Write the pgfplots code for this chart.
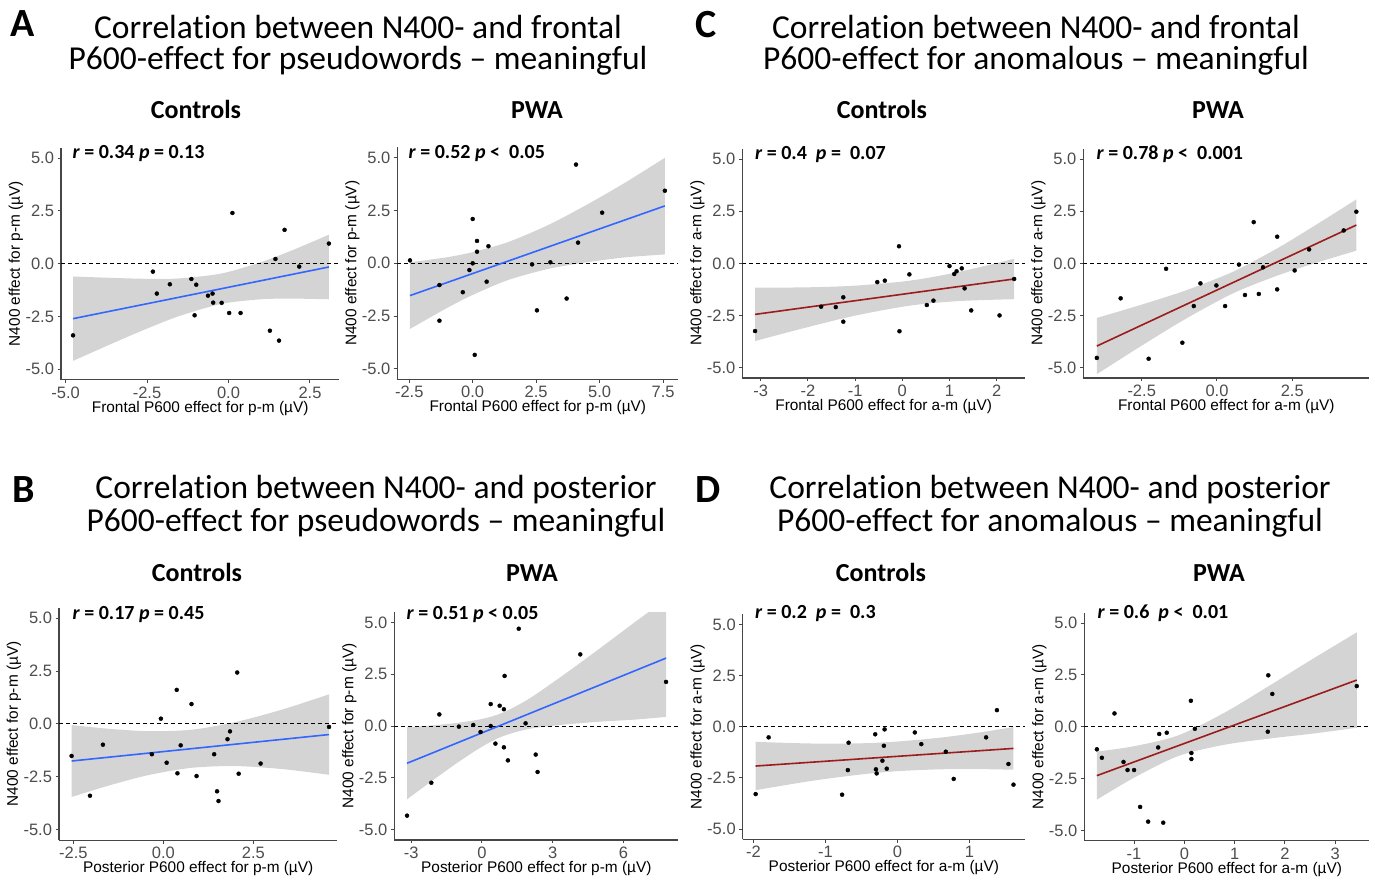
\documentclass[border=0pt]{standalone}
\usepackage{fontspec}
\setmainfont{Carlito}[Ligatures=NoCommon]
\newfontfamily\arial{Liberation Sans}
\usepackage{pgfplots}
\pgfplotsset{compat=1.18}
\usepgfplotslibrary{fillbetween}

\definecolor{axcol}{RGB}{70,70,70}
\definecolor{tickcol}{RGB}{77,77,77}
\definecolor{bandcol}{RGB}{212,212,212}
\definecolor{bluefit}{HTML}{3366FF}
\definecolor{redfit}{HTML}{9B1C1C}

\newcommand\ticklab{\arial\fontsize{16.5}{18}\selectfont}
\newcommand\axlab{\arial\fontsize{15.4}{17}\selectfont}
\newcommand\titlefont{\fontsize{33.5}{37}\selectfont}
\newcommand\letterfont{\fontsize{40}{44}\selectfont\bfseries}
\newcommand\groupfont{\fontsize{26}{29}\selectfont\bfseries}
\newcommand\rfont{\fontsize{20}{22}\selectfont\bfseries}

\pgfplotsset{
  scat/.style={
    scale only axis, anchor=south west,
    ymin=-5.5, ymax=5.5,
    ytick={-5,-2.5,0,2.5,5}, yticklabels={-5.0,-2.5,0.0,2.5,5.0},
    axis x line*=bottom, axis y line*=left,
    axis line style={-, draw=axcol, line width=1.3pt},
    every outer x axis line/.append style={-},
    every outer y axis line/.append style={-},
    tick align=outside, major tick length=3.5pt,
    major tick style={draw=axcol, line width=1pt},
    ticklabel style={font=\ticklab, text=tickcol},
  },
  band/.style={fill=bandcol, draw=none},
  pts/.style={only marks, mark=*, mark size=2pt, black},
  zero/.style={black, line width=1pt, dash pattern=on 4pt off 3pt},
  bfit/.style={bluefit, line width=1.6pt},
  rfit/.style={redfit, line width=1.6pt},
}
\tikzset{
  tline1/.style={font=\titlefont, anchor=base, inner sep=1pt, text depth=0pt},
  tline2/.style={font=\titlefont, anchor=base, inner sep=1pt, text height=20pt},
}

\begin{document}
\begin{tikzpicture}

% ---------- titles ----------
\node[font=\letterfont, anchor=base] at (23pt,-36pt) {A};
\node[font=\letterfont, anchor=base] at (706pt,-37pt) {C};
\node[font=\letterfont, anchor=base] at (24pt,-502pt) {B};
\node[font=\letterfont, anchor=base] at (708pt,-502pt) {D};

\node[tline1] at (358pt,-38pt) {Correlation between N400- and frontal};
\node[tline2] at (358pt,-69pt) {P600-effect for pseudowords – meaningful};
\node[tline1] at (1036pt,-38pt) {Correlation between N400- and frontal};
\node[tline2] at (1036pt,-69pt) {P600-effect for anomalous – meaningful};
\node[tline1] at (376pt,-498pt) {Correlation between N400- and posterior};
\node[tline2] at (376pt,-531pt) {P600-effect for pseudowords – meaningful};
\node[tline1] at (1050pt,-498pt) {Correlation between N400- and posterior};
\node[tline2] at (1050pt,-531pt) {P600-effect for anomalous – meaningful};

\node[font=\groupfont, anchor=base] at (196pt,-118.5pt) {Controls};
\node[font=\groupfont, anchor=base] at (537pt,-118.5pt) {PWA};
\node[font=\groupfont, anchor=base] at (882pt,-118.5pt) {Controls};
\node[font=\groupfont, anchor=base] at (1218pt,-118.5pt) {PWA};
\node[font=\groupfont, anchor=base] at (197pt,-581.5pt) {Controls};
\node[font=\groupfont, anchor=base] at (532pt,-581.5pt) {PWA};
\node[font=\groupfont, anchor=base] at (881pt,-581.5pt) {Controls};
\node[font=\groupfont, anchor=base] at (1219pt,-581.5pt) {PWA};

% ---------- A: Controls ----------
\begin{axis}[scat, name=ac, at={(61pt,-379.65pt)}, width=278.3pt, height=232.1pt,
  xmin=-5.14, xmax=3.40, xtick={-5,-2.5,0,2.5}, xticklabels={-5.0,-2.5,0.0,2.5}]
  \addplot[name path=up, draw=none, smooth] coordinates {(-4.77,-0.61) (-3.5,-0.68) (-2.5,-0.72) (-1.5,-0.70) (-0.22,-0.47) (1,0.07) (2,0.66) (3.08,1.37)};
  \addplot[name path=lo, draw=none, smooth] coordinates {(-4.77,-4.61) (-3.5,-3.74) (-2.5,-3.08) (-1.5,-2.48) (-0.22,-1.91) (1,-1.69) (2,-1.66) (3.08,-1.69)};
  \addplot[band] fill between[of=up and lo];
  \addplot[zero] coordinates {(-5.14,0) (3.40,0)};
  \addplot[bfit] coordinates {(-4.77,-2.61) (3.08,-0.16)};
  \addplot[pts] coordinates {(-4.77,-3.40) (-2.32,-0.38) (-2.20,-1.42) (-1.80,-0.98) (-1.14,-0.73) (-0.99,-1.00) (-1.04,-2.45) (-0.63,-1.52) (-0.49,-1.42) (-0.47,-1.85) (-0.21,-1.86) (0.12,2.40) (0.02,-2.34) (0.37,-2.34) (1.27,-3.18) (1.55,-3.65) (1.44,0.22) (1.72,1.60) (2.17,-0.14) (3.08,0.95)};
\end{axis}

% ---------- A: PWA ----------
\begin{axis}[scat, name=ap, at={(397.3pt,-379.35pt)}, width=281pt, height=232.1pt,
  xmin=-2.97, xmax=8.10, xtick={-2.5,0,2.5,5,7.5}, xticklabels={-2.5,0.0,2.5,5.0,7.5}]
  \addplot[name path=up, draw=none, smooth] coordinates {(-2.47,0.05) (-1,0.29) (0,0.53) (1.4,1.01) (3,1.83) (4.5,2.78) (6,3.82) (7.57,5.0)};
  \addplot[name path=lo, draw=none, smooth] coordinates {(-2.47,-3.11) (-1,-2.11) (0,-1.50) (1.4,-0.79) (3,-0.26) (4.5,0.05) (6,0.28) (7.57,0.42)};
  \addplot[band] fill between[of=up and lo];
  \addplot[zero] coordinates {(-2.97,0) (8.10,0)};
  \addplot[bfit] coordinates {(-2.47,-1.53) (7.57,2.72)};
  \addplot[pts] coordinates {(-2.47,0.14) (-1.31,-1.03) (-1.31,-2.72) (-0.39,-1.37) (-0.13,-0.32) (0.0,2.10) (0.0,0.0) (0.08,-4.34) (0.17,1.06) (0.17,0.55) (0.62,0.81) (0.55,-0.87) (2.34,-0.05) (2.53,-2.23) (3.06,0.05) (3.70,-1.67) (4.07,4.68) (4.15,0.98) (5.10,2.40) (7.57,3.44)};
\end{axis}

% ---------- C: Controls ----------
\begin{axis}[scat, name=cc, at={(742.3pt,-377.9pt)}, width=282.7pt, height=229.1pt,
  xmin=-3.39, xmax=2.60, xtick={-3,-2,-1,0,1,2}, xticklabels={-3,-2,-1,0,1,2}]
  \addplot[name path=up, draw=none, smooth] coordinates {(-3.12,-1.17) (-2,-1.15) (-1,-1.07) (0.16,-0.83) (1.2,-0.41) (2.37,0.22)};
  \addplot[name path=lo, draw=none, smooth] coordinates {(-3.12,-3.73) (-2,-3.06) (-1,-2.51) (0.16,-2.03) (1.2,-1.81) (2.37,-1.72)};
  \addplot[band] fill between[of=up and lo];
  \addplot[zero] coordinates {(-3.39,0) (2.60,0)};
  \addplot[rfit] coordinates {(-3.12,-2.45) (2.37,-0.75)};
  \addplot[pts] coordinates {(-3.12,-3.25) (-1.72,-2.08) (-1.41,-2.10) (-1.25,-1.63) (-1.25,-2.80) (-0.53,-0.90) (-0.37,-0.83) (-0.07,0.82) (-0.06,-3.26) (0.15,-0.53) (0.52,-2.0) (0.66,-1.79) (1.0,-0.13) (1.10,-0.51) (1.15,-0.38) (1.26,-0.24) (1.32,-1.2) (1.46,-2.26) (2.06,-2.50) (2.37,-0.75)};
\end{axis}

% ---------- C: PWA ----------
\begin{axis}[scat, name=cp, at={(1083.3pt,-377.9pt)}, width=286pt, height=229.1pt,
  xmin=-4.44, xmax=5.06, xtick={-2.5,0,2.5}, xticklabels={-2.5,0.0,2.5}]
  \addplot[name path=up, draw=none, smooth] coordinates {(-3.99,-2.62) (-2.5,-1.98) (-1,-1.28) (0.55,-0.39) (2,0.72) (3.3,1.86) (4.63,3.07)};
  \addplot[name path=lo, draw=none, smooth] coordinates {(-3.99,-5.32) (-2.5,-3.95) (-1,-2.63) (0.55,-1.43) (2,-0.59) (3.3,0.03) (4.63,0.61)};
  \addplot[band] fill between[of=up and lo];
  \addplot[zero] coordinates {(-4.44,0) (5.06,0)};
  \addplot[rfit] coordinates {(-3.99,-3.97) (4.63,1.84)};
  \addplot[pts] coordinates {(-3.99,-4.54) (-3.20,-1.68) (-2.27,-4.58) (-1.69,-0.26) (-1.15,-3.81) (-0.77,-2.05) (-0.55,-0.96) (-0.02,-1.06) (0.27,-2.05) (0.73,-0.06) (0.93,-1.52) (1.22,1.98) (1.39,-1.47) (1.53,-0.19) (2.0,1.28) (2.0,-1.25) (2.58,-0.34) (3.06,0.67) (4.21,1.58) (4.63,2.48)};
\end{axis}

% ---------- B: Controls ----------
\begin{axis}[scat, name=bc, at={(59pt,-840.4pt)}, width=278.3pt, height=232.9pt,
  xmin=-2.90, xmax=4.83, xtick={-2.5,0,2.5}, xticklabels={-2.5,0.0,2.5}]
  \addplot[name path=up, draw=none, smooth] coordinates {(-2.55,-0.05) (-1.5,-0.23) (-0.4,-0.34) (0.79,-0.27) (2,0.09) (3.3,0.68) (4.6,1.40)};
  \addplot[name path=lo, draw=none, smooth] coordinates {(-2.55,-3.45) (-1.5,-2.90) (-0.4,-2.41) (0.79,-2.07) (2,-1.99) (3.3,-2.13) (4.6,-2.40)};
  \addplot[band] fill between[of=up and lo];
  \addplot[zero] coordinates {(-2.90,0) (4.83,0)};
  \addplot[bfit] coordinates {(-2.55,-1.75) (4.6,-0.50)};
  \addplot[pts] coordinates {(-2.55,-1.51) (-2.04,-3.39) (-1.68,-0.98) (-0.32,-1.43) (-0.07,0.25) (0.09,-1.83) (0.37,1.61) (0.39,-2.33) (0.48,-1.01) (0.78,0.94) (0.92,-2.46) (1.41,-1.43) (1.49,-3.18) (1.53,-3.64) (1.78,-0.72) (1.85,-0.35) (2.05,2.43) (2.09,-2.35) (2.70,-1.87) (4.60,-0.14)};
\end{axis}

% ---------- B: PWA ----------
\begin{axis}[scat, name=bp, at={(394.3pt,-839.85pt)}, width=284pt, height=227.7pt,
  xmin=-3.72, xmax=8.33, xtick={-3,0,3,6}, xticklabels={-3,0,3,6}]
  \addplot[name path=up, draw=none, smooth] coordinates {(-3.18,-0.06) (-2,0.04) (-1,0.16) (0,0.34) (0.87,0.64) (2,1.32) (3.5,2.50) (5,3.75) (6.5,5.03) (7.81,6.12)};
  \addplot[name path=lo, draw=none, smooth] coordinates {(-3.18,-3.54) (-2,-2.55) (-1,-1.74) (0,-1.00) (0.87,-0.50) (2,-0.14) (3.5,0.07) (5,0.21) (6.5,0.31) (7.81,0.44)};
  \addplot[band] fill between[of=up and lo];
  \addplot[zero] coordinates {(-3.72,0) (8.33,0)};
  \addplot[bfit] coordinates {(-3.18,-1.80) (7.81,3.28)};
  \addplot[pts] coordinates {(-3.18,-4.33) (-2.15,-2.74) (-1.81,0.56) (-0.98,-0.03) (-0.37,0.05) (-0.06,-0.29) (0.37,1.06) (0.37,0.0) (0.57,-0.85) (0.75,0.98) (0.93,0.81) (0.93,-1.03) (0.96,2.42) (1.10,-1.66) (1.56,4.70) (1.85,0.13) (2.28,-1.38) (2.36,-2.22) (4.17,3.46) (7.81,2.13)};
\end{axis}

% ---------- D: Controls ----------
\begin{axis}[scat, name=dc, at={(742.7pt,-839.3pt)}, width=282.3pt, height=225.2pt,
  xmin=-2.15, xmax=1.77, xtick={-2,-1,0,1}, xticklabels={-2,-1,0,1}]
  \addplot[name path=up, draw=none, smooth] coordinates {(-1.97,-0.74) (-1.2,-0.82) (-0.5,-0.81) (0.01,-0.72) (0.6,-0.53) (1.1,-0.30) (1.61,-0.02)};
  \addplot[name path=lo, draw=none, smooth] coordinates {(-1.97,-3.10) (-1.2,-2.65) (-0.5,-2.33) (0.01,-2.17) (0.6,-2.08) (1.1,-2.07) (1.61,-2.10)};
  \addplot[band] fill between[of=up and lo];
  \addplot[zero] coordinates {(-2.15,0) (1.77,0)};
  \addplot[rfit] coordinates {(-1.97,-1.92) (1.61,-1.06)};
  \addplot[pts] coordinates {(-1.97,-3.29) (-1.79,-0.52) (-0.77,-3.32) (-0.68,-0.78) (-0.69,-2.12) (-0.31,-0.37) (-0.30,-2.08) (-0.29,-2.28) (-0.18,-0.13) (-0.19,-0.93) (-0.21,-1.66) (-0.15,-2.05) (0.24,-0.28) (0.33,-0.85) (0.67,-1.22) (0.78,-2.55) (1.23,-0.52) (1.38,0.81) (1.54,-1.82) (1.61,-2.83)};
\end{axis}

% ---------- D: PWA ----------
\begin{axis}[scat, name=dp, at={(1084.3pt,-840.7pt)}, width=285pt, height=228pt,
  xmin=-1.99, xmax=3.68, xtick={-2,-1,0,1,2,3}, xticklabels={-2,-1,0,1,2,3}]
  \addplot[name path=up, draw=none, smooth] coordinates {(-1.74,-1.20) (-1,-0.94) (-0.12,-0.415) (0.8,0.68) (1.7,1.99) (2.6,3.34) (3.43,4.55)};
  \addplot[name path=lo, draw=none, smooth] coordinates {(-1.74,-3.52) (-1,-2.46) (-0.12,-1.415) (0.8,-0.87) (1.7,-0.57) (2.6,-0.32) (3.43,-0.05)};
  \addplot[band] fill between[of=up and lo];
  \addplot[zero] coordinates {(-1.99,0) (3.68,0)};
  \addplot[rfit] coordinates {(-1.74,-2.36) (3.43,2.25)};
  \addplot[pts] coordinates {(-1.74,-1.09) (-1.64,-1.50) (-1.39,0.64) (-1.21,-1.70) (-1.13,-2.09) (-1.0,-2.09) (-0.88,-3.87) (-0.72,-4.58) (-0.52,-1.0) (-0.50,-0.35) (-0.35,-0.29) (-0.42,-4.63) (0.13,1.25) (0.14,-1.27) (0.14,-1.56) (0.21,-0.10) (1.66,-0.24) (1.67,2.48) (1.75,1.58) (3.43,1.96)};
\end{axis}

% ---------- axis titles ----------
\foreach \n/\xl/\yl in {ac/Frontal P600 effect for p-m/p-m, ap/Frontal P600 effect for p-m/p-m,
  cc/Frontal P600 effect for a-m/a-m, cp/Frontal P600 effect for a-m/a-m,
  bc/Posterior P600 effect for p-m/p-m, bp/Posterior P600 effect for p-m/p-m,
  dc/Posterior P600 effect for a-m/a-m, dp/Posterior P600 effect for a-m/a-m}{
  \node[font=\axlab] at ([yshift=-28.5pt]\n.south) {\xl{} (µV)};
  \node[font=\axlab, rotate=90] at ([xshift=-45pt]\n.west) {N400 effect for \yl{} (µV)};
}

% ---------- correlation labels ----------
\node[font=\rfont, anchor=base west] at (69pt,-158pt) {\textit{r} = 0.34 \textit{p} = 0.13};
\node[font=\rfont, anchor=base west] at (405pt,-158pt) {\textit{r} = 0.52 \textit{p} <~ 0.05};
\node[font=\rfont, anchor=base west] at (751.5pt,-159.5pt) {\textit{r} = 0.4 ~\textit{p} = ~0.07};
\node[font=\rfont, anchor=base west] at (1093pt,-159.5pt) {\textit{r} = 0.78 \textit{p} <~ 0.001};
\node[font=\rfont, anchor=base west] at (69pt,-619pt) {\textit{r} = 0.17 \textit{p} = 0.45};
\node[font=\rfont, anchor=base west] at (403pt,-619.5pt) {\textit{r} = 0.51 \textit{p} < 0.05};
\node[font=\rfont, anchor=base west] at (751.5pt,-618.5pt) {\textit{r} = 0.2 ~\textit{p} = ~0.3};
\node[font=\rfont, anchor=base west] at (1094pt,-618pt) {\textit{r} = 0.6 ~\textit{p} <~ 0.01};

\pgfresetboundingbox
\path[use as bounding box] (0pt,0pt) rectangle (1375pt,-879pt);
\end{tikzpicture}
\end{document}
